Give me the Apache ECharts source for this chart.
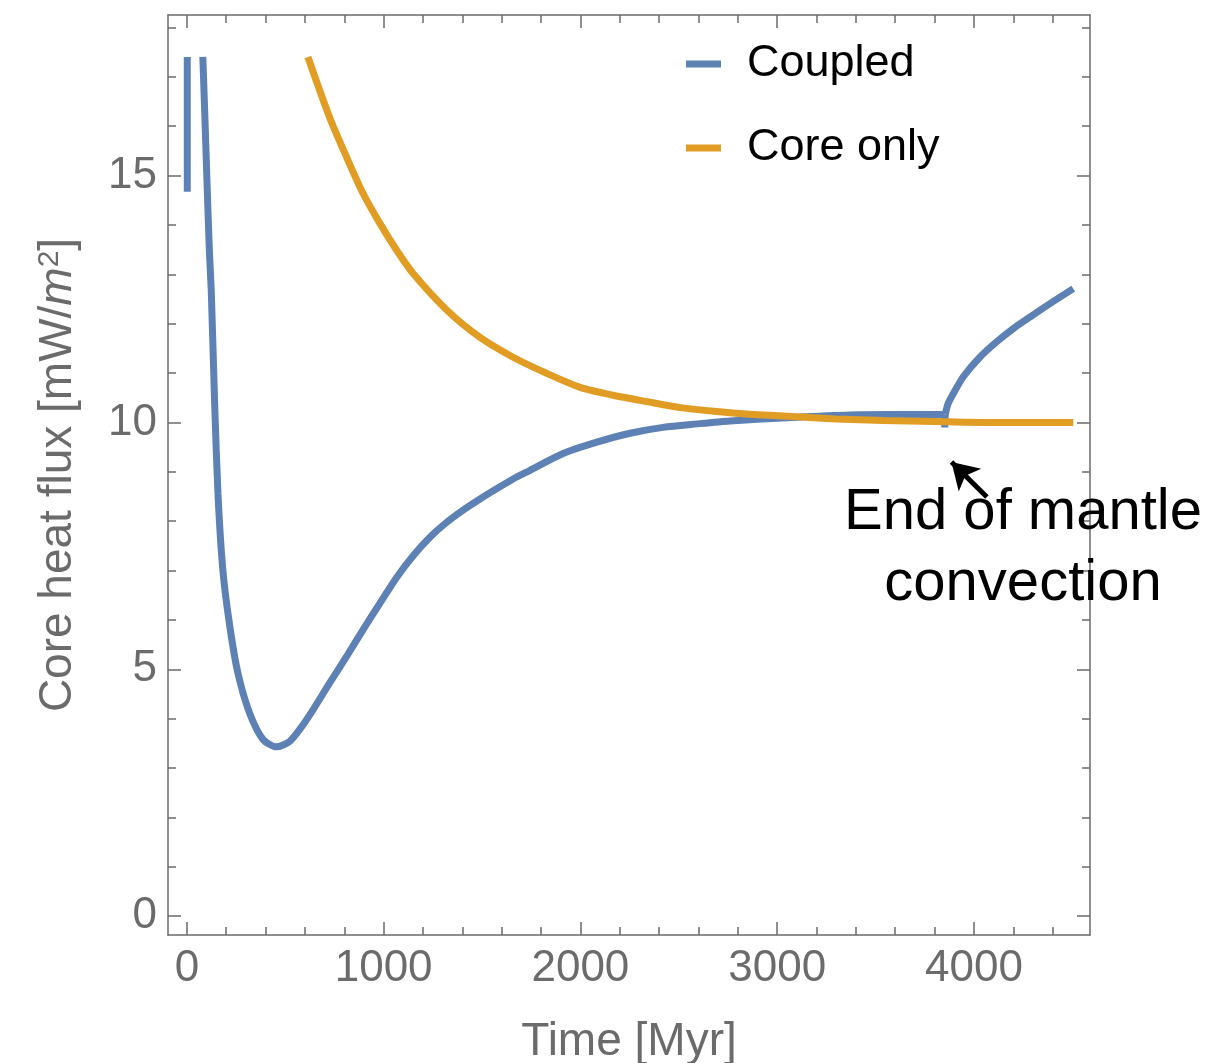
<!DOCTYPE html>
<html>
<head>
<meta charset="utf-8">
<script src="https://cdn.jsdelivr.net/npm/echarts@6/dist/echarts.min.js"></script>
<style>
  html, body { margin: 0; padding: 0; background: #fff; }
  #chart { width: 1215px; height: 1063px; }
</style>
</head>
<body>
<div id="chart"></div>
<script>
// values
// short vertical piece at t = 0
const coupledStartTime = [2, 2]
const coupledStartFlux = [14.67, 17.4]

const coupledTime = [81, 93, 102, 114, 124, 141, 158, 183, 217, 259, 319, 387, 455, 522, 580, 641, 725, 810, 895, 980, 1066, 1150, 1234, 1318, 1402, 1490, 1576, 1660, 1744, 1912, 2084, 2252, 2420, 2592, 2760, 3080, 3370, 3600, 3850]
const coupledFlux = [17.4, 16.0, 14.9, 13.5, 12.65, 10.4, 8.55, 7.0, 5.9, 4.93, 4.11, 3.58, 3.43, 3.54, 3.82, 4.18, 4.72, 5.25, 5.8, 6.33, 6.86, 7.3, 7.67, 7.97, 8.22, 8.45, 8.66, 8.86, 9.03, 9.37, 9.6, 9.78, 9.9, 9.97, 10.03, 10.1, 10.15, 10.16, 10.16]

// the kink when mantle convection stops
const coupledKinkTime = [3850, 3852, 3854]
const coupledKinkFlux = [10.16, 9.9, 10.16]

const coupledLateTime = [3854, 3869, 3895, 3945, 4030, 4115, 4200, 4284, 4369, 4505]
const coupledLateFlux = [10.16, 10.38, 10.58, 10.92, 11.32, 11.63, 11.9, 12.13, 12.36, 12.71]

const coreTime = [615, 726, 813, 895, 981, 1067, 1149, 1322, 1490, 1658, 1831, 1999, 2167, 2340, 2508, 2693, 2880, 3080, 3300, 3538, 3800, 4046, 4300, 4505]
const coreFlux = [17.4, 16.17, 15.36, 14.64, 14.03, 13.48, 13.02, 12.27, 11.72, 11.32, 10.99, 10.71, 10.55, 10.42, 10.3, 10.22, 10.16, 10.12, 10.07, 10.04, 10.02, 10.0, 10.0, 10.0]

const xMajor = [0, 1000, 2000, 3000, 4000]
const xMinor = [200, 400, 600, 800, 1200, 1400, 1600, 1800, 2200, 2400, 2600, 2800, 3200, 3400, 3600, 3800, 4200, 4400]
const yMajor = [0, 5, 10, 15]
const yMinor = [1, 2, 3, 4, 6, 7, 8, 9, 11, 12, 13, 14, 16, 17, 18]

// arrow from the text to the kink
const arrowFrom = [4066, 8.49]
const arrowTo = [3886, 9.2]

const blue = '#5E81B5'
const orange = '#E19C24'
const frameColor = '#6b6b6b'
const font = '"Liberation Sans", Arial, Helvetica, sans-serif'

const zip = (xs, ys) => xs.map((x, i) => [x, ys[i]])

// one axis per tick set, so the frame gets ticks on every side
const xAxisOf = (position, ticks, len, isMain) => ({
  type: 'value',
  position,
  min: -96,
  max: 4590,
  axisLine: { show: isMain !== undefined, onZero: false, lineStyle: { color: frameColor, width: 1.5 } },
  axisTick: { show: true, inside: true, length: len, customValues: ticks, lineStyle: { color: frameColor, width: 1.5 } },
  axisLabel: isMain
    ? { show: true, customValues: xMajor, formatter: (v) => String(v), fontSize: 44, color: frameColor, fontFamily: font, margin: 12 }
    : { show: false },
  splitLine: { show: false },
  name: isMain ? 'Time [Myr]' : '',
  nameLocation: 'middle',
  nameGap: 84,
  nameTextStyle: { fontSize: 46, color: frameColor, fontFamily: font },
})

const yAxisOf = (position, ticks, len, isMain) => ({
  type: 'value',
  position,
  min: -0.38,
  max: 18.25,
  axisLine: { show: isMain !== undefined, onZero: false, lineStyle: { color: frameColor, width: 1.5 } },
  axisTick: { show: true, inside: true, length: len, customValues: ticks, lineStyle: { color: frameColor, width: 1.5 } },
  axisLabel: isMain
    ? { show: true, customValues: yMajor, fontSize: 44, color: frameColor, fontFamily: font, margin: 11 }
    : { show: false },
  splitLine: { show: false },
  name: isMain ? 'Core heat flux [mW/{it|m}{sup|2}]' : '',
  nameLocation: 'middle',
  nameGap: 87,
  nameTextStyle: {
    fontSize: 46,
    color: frameColor,
    fontFamily: font,
    rich: {
      it: { fontSize: 46, fontStyle: 'italic', color: frameColor, fontFamily: font },
      sup: { fontSize: 30, color: frameColor, fontFamily: font, verticalAlign: 'top' },
    },
  },
})

const lineSeries = (name, color, data, smooth, z) => ({
  name,
  type: 'line',
  data,
  showSymbol: false,
  smooth,
  lineStyle: { color, width: 7 },
  itemStyle: { color },
  z,
})

const chart = echarts.init(document.getElementById('chart'))

const coreSeries = lineSeries('Core only', orange, zip(coreTime, coreFlux), 0.25, 4)
coreSeries.markLine = {
  silent: true,
  symbol: ['none', 'arrow'],
  symbolSize: [24, 26],
  label: { show: false },
  lineStyle: { color: '#000', width: 5, type: 'solid' },
  data: [[{ coord: arrowFrom }, { coord: arrowTo }]],
}

chart.setOption({
  backgroundColor: '#fff',
  animation: false,
  grid: { left: 168, top: 15, width: 922, height: 920, outerBoundsMode: 'none' },
  legend: {
    orient: 'vertical',
    left: 681,
    top: 34,
    icon: 'rect',
    itemWidth: 35,
    itemHeight: 7,
    itemGap: 34,
    textStyle: { fontSize: 45, lineHeight: 50, color: '#000', fontFamily: font, padding: [0, 0, 0, 21] },
    data: ['Coupled', 'Core only'],
  },
  xAxis: [
    xAxisOf('bottom', xMajor, 13, true),
    xAxisOf('bottom', xMinor, 8),
    xAxisOf('top', xMajor, 13, false),
    xAxisOf('top', xMinor, 8),
  ],
  yAxis: [
    yAxisOf('left', yMajor, 13, true),
    yAxisOf('left', yMinor, 8),
    yAxisOf('right', yMajor, 13, false),
    yAxisOf('right', yMinor, 8),
  ],
  graphic: [
    {
      type: 'text',
      x: 1023,
      y: 513,
      style: {
        text: 'End of mantle',
        align: 'center',
        verticalAlign: 'middle',
        fontSize: 58,
        fill: '#000',
        fontFamily: font,
      },
      z: 100,
    },
    {
      type: 'text',
      x: 1023,
      y: 584,
      style: {
        text: 'convection',
        align: 'center',
        verticalAlign: 'middle',
        fontSize: 58,
        fill: '#000',
        fontFamily: font,
      },
      z: 100,
    },
  ],
  series: [
    lineSeries('Coupled', blue, zip(coupledStartTime, coupledStartFlux), false, 3),
    lineSeries('Coupled', blue, zip(coupledTime, coupledFlux), 0.25, 3),
    lineSeries('Coupled', blue, zip(coupledKinkTime, coupledKinkFlux), false, 3),
    lineSeries('Coupled', blue, zip(coupledLateTime, coupledLateFlux), 0.25, 3),
    coreSeries,
  ],
})
</script>
</body>
</html>
